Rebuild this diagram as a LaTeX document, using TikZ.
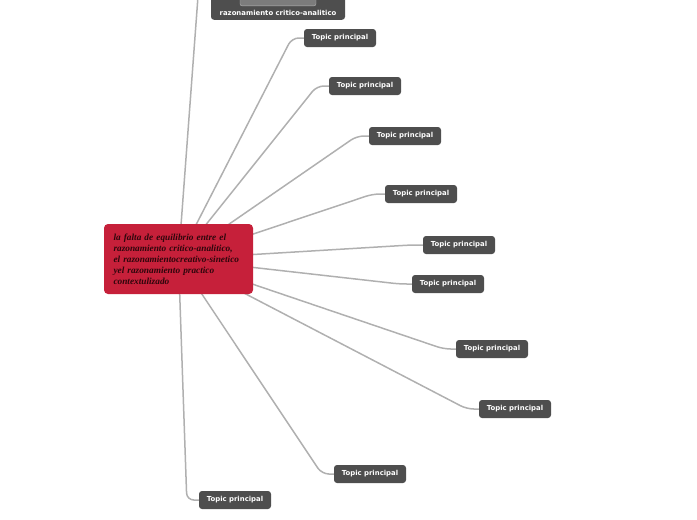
\documentclass[tikz,border=0pt]{standalone}
\usepackage{fontspec}
\usepackage{xcolor}
\usepackage{tikz}
\usetikzlibrary{positioning, calc, backgrounds}

\newfontfamily\topicfont{DejaVu Sans}
\newfontfamily\ideafont{Liberation Serif}

\definecolor{topicgray}{HTML}{4E4E4E}
\definecolor{ideared}{HTML}{C6203A}
\definecolor{ideatext}{HTML}{2E060C}
\definecolor{linkgray}{HTML}{B0B0B0}
\definecolor{imggray}{HTML}{7C7C7C}

\begin{document}
\begin{tikzpicture}[
        x=1pt, y=-1pt,
        topic/.style={rectangle, rounded corners=3pt, fill=topicgray, text=white, font=\topicfont\bfseries\fontsize{6.9}{8}\selectfont, minimum width=72pt, minimum height=18pt, inner sep=0pt},
        idea/.style={rectangle, rounded corners=4pt, fill=ideared, text=ideatext, font=\ideafont\bfseries\itshape\fontsize{9.3}{11}\selectfont, align=left, text width=130pt, inner xsep=9.5pt, minimum width=149pt, minimum height=70pt},
        link/.style={draw=linkgray, line width=1.5pt, rounded corners=7pt}
    ]
        \useasboundingbox (0,0) rectangle (697,520);
        \clip (0,0) rectangle (697,520);

        % Main idea
        \node[idea] (main) at (178.5,259) {la falta de equilibrio entre el\\razonamiento critico-analitico,\\el razonamientocreativo-sinetico\\yel razonamiento practico\\contextulizado};

        % Topic cut off at the top edge
        \node[topic, minimum width=134pt, text height=60pt, inner sep=4pt, anchor=south] (crit) at (278,20) {razonamiento critico-analitico};
        \node[fill=imggray, draw=gray!60, rounded corners=2pt, minimum width=76pt, minimum height=20pt, anchor=south] (critimg) at (278,6) {};

        % Topics
        \node[topic] (t1) at (340,38) {Topic principal};
        \node[topic] (t2) at (365,86) {Topic principal};
        \node[topic] (t3) at (405,136) {Topic principal};
        \node[topic] (t4) at (421,194) {Topic principal};
        \node[topic] (t5) at (459,245) {Topic principal};
        \node[topic] (t6) at (448,284) {Topic principal};
        \node[topic] (t7) at (492,349) {Topic principal};
        \node[topic] (t8) at (515,409) {Topic principal};
        \node[topic] (t9) at (370,474) {Topic principal};
        \node[topic] (t10) at (235,500) {Topic principal};

        % Links
        \begin{scope}[on background layer]
            \draw[link] (main.center) -- ($(crit.west)+(-12,0)$) -- (crit.west);
            \draw[link] (main.center) -- ($(t1.west)+(-12,0)$) -- (t1.west);
            \draw[link] (main.center) -- ($(t2.west)+(-12,0)$) -- (t2.west);
            \draw[link] (main.center) -- ($(t3.west)+(-12,0)$) -- (t3.west);
            \draw[link] (main.center) -- ($(t4.west)+(-12,0)$) -- (t4.west);
            \draw[link] (main.center) -- ($(t5.west)+(-12,0)$) -- (t5.west);
            \draw[link] (main.center) -- ($(t6.west)+(-12,0)$) -- (t6.west);
            \draw[link] (main.center) -- ($(t7.west)+(-12,0)$) -- (t7.west);
            \draw[link] (main.center) -- ($(t8.west)+(-12,0)$) -- (t8.west);
            \draw[link] (main.center) -- ($(t9.west)+(-12,0)$) -- (t9.west);
            \draw[link] (main.center) -- ($(t10.west)+(-12,0)$) -- (t10.west);
        \end{scope}

    \end{tikzpicture}
\end{document}
